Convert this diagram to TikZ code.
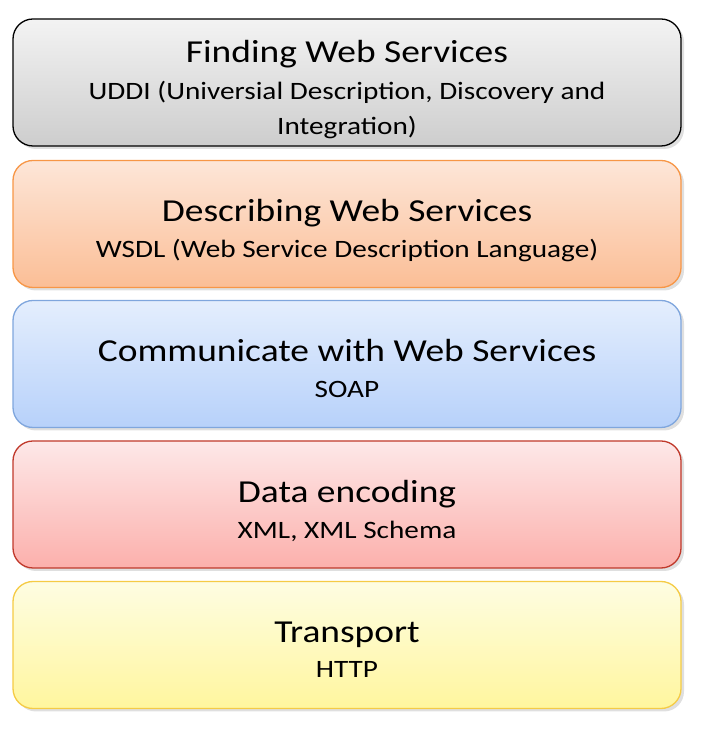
\documentclass[tikz,border=0pt]{standalone}
\usepackage{fontspec}
\setmainfont{Carlito}
\newfontfamily\wide[FakeStretch=1.17]{Carlito}
\usetikzlibrary{shadows}
\tikzset{
  layer/.style={draw, line width=1.3pt, rounded corners=20pt, minimum width=668pt, minimum height=127pt, inner sep=0pt,
    drop shadow={opacity=0.25, shadow xshift=3pt, shadow yshift=-3pt}},
  ttl/.style={font=\wide\fontsize{32}{38}\selectfont, inner sep=0pt, anchor=base},
  sub/.style={font=\wide\fontsize{25}{30}\selectfont, inner sep=0pt, anchor=base}
}
\definecolor{b1}{HTML}{000000}
\definecolor{b2}{HTML}{F79646}
\definecolor{b3}{HTML}{7FA6DD}
\definecolor{b4}{HTML}{C0392B}
\definecolor{b5}{HTML}{F5CB45}
\begin{document}
\begin{tikzpicture}[x=1pt,y=1pt]
\useasboundingbox (0,0) rectangle (703,730);
\node[layer, draw=b1, top color={rgb,255:red,243;green,243;blue,243}, bottom color={rgb,255:red,205;green,205;blue,205}] (l1) at (347,647.5) {};
\node[layer, draw=b2, top color={rgb,255:red,253;green,230;blue,216}, bottom color={rgb,255:red,251;green,190;blue,150}] (l2) at (347,506) {};
\node[layer, draw=b3, top color={rgb,255:red,228;green,238;blue,253}, bottom color={rgb,255:red,183;green,209;blue,250}] (l3) at (347,366) {};
\node[layer, draw=b4, top color={rgb,255:red,253;green,232;blue,232}, bottom color={rgb,255:red,252;green,176;blue,172}] (l4) at (347,225.5) {};
\node[layer, draw=b5, top color={rgb,255:red,254;green,253;blue,226}, bottom color={rgb,255:red,255;green,246;blue,158}] (l5) at (347,85) {};
\node[ttl] (t1) at (347,667) {Finding Web Services};
\node[sub] (s1a) at (347,630) {UDDI (Universial Description, Discovery and};
\node[sub] (s1b) at (347,595) {Integration)};
\node[ttl] (t2) at (347,508) {Describing Web Services};
\node[sub] (s2) at (347,472) {WSDL (Web Service Description Language)};
\node[ttl] (t3) at (347,368) {Communicate with Web Services};
\node[sub] (s3) at (347,332) {SOAP};
\node[ttl] (t4) at (347,227) {Data encoding};
\node[sub] (s4) at (347,191) {XML, XML Schema};
\node[ttl] (t5) at (347,87) {Transport};
\node[sub] (s5) at (347,52) {HTTP};
\end{tikzpicture}
\end{document}
